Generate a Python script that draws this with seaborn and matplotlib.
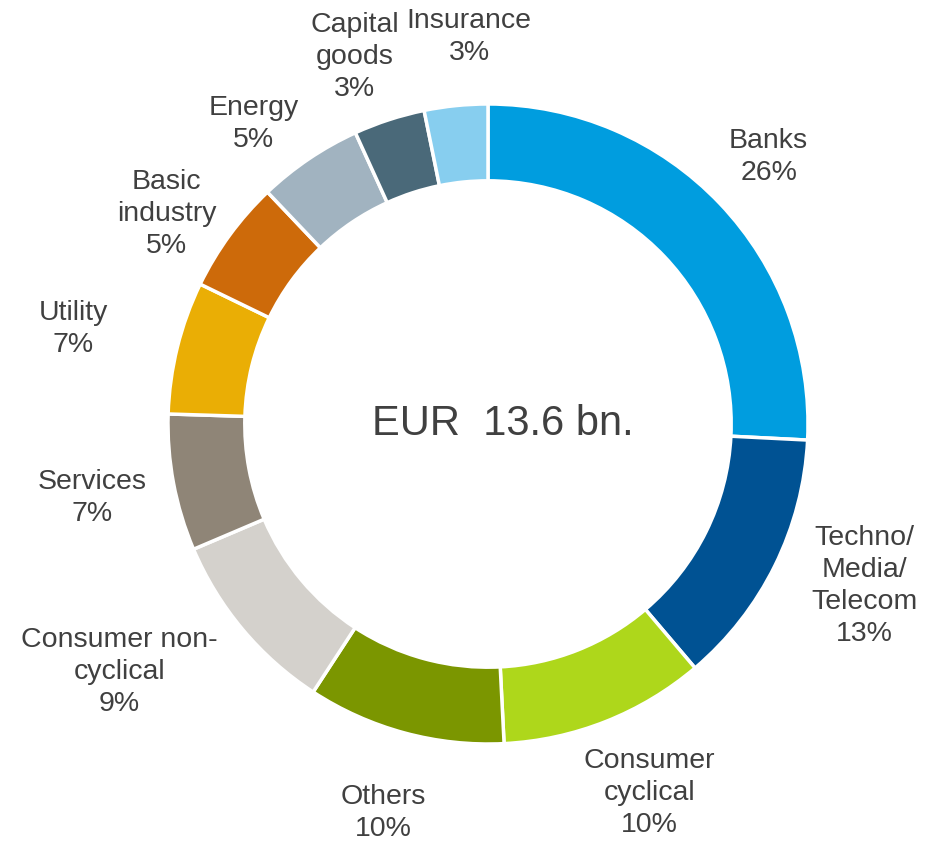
import numpy as np
import matplotlib.pyplot as plt
import seaborn as sns

sectors = ['Banks', 'Techno/\nMedia/\nTelecom', 'Consumer\ncyclical', 'Others',
           'Consumer non-\ncyclical', 'Services', 'Utility', 'Basic\nindustry',
           'Energy', 'Capital\ngoods', 'Insurance']
shares = [25.8, 13.0, 10.4, 10.0, 9.4, 6.9, 6.7, 5.7, 5.3, 3.6, 3.2]
pct_labels = ['26%', '13%', '10%', '10%', '9%', '7%', '7%', '5%', '5%', '3%', '3%']
colors = ['#009DDF', '#005293', '#AED71B', '#7B9600', '#D4D1CC', '#8F8577',
          '#EAAE05', '#CD6A0A', '#A1B3C0', '#4A6979', '#87CEEF']
total_label = 'EUR  13.6 bn.'

sns.set_theme(style='white')
plt.rcParams['font.family'] = ['Liberation Sans', 'DejaVu Sans']
txt_color = '#404040'

fig = plt.figure(figsize=(9.25, 8.43), dpi=100)
ax = fig.add_axes([0, 0, 1, 1])

wedges, _ = ax.pie(shares, colors=sns.color_palette(colors), startangle=90,
                   counterclock=False, radius=1.0,
                   wedgeprops=dict(width=0.24, edgecolor='white', linewidth=2.5))

# label distance from centre (in radii) and small angular nudges
label_dist = [1.21, 1.28, 1.26, 1.26, 1.39, 1.26, 1.33, 1.20, 1.19, 1.22, 1.21]
label_nudge = [0, 3, 2, 0, -6, 0, 1, 3, 4, 2, -3]

for w, name, pct, d, nd in zip(wedges, sectors, pct_labels, label_dist, label_nudge):
    ang = np.deg2rad((w.theta1 + w.theta2) / 2 + nd)
    ax.text(d * np.cos(ang), d * np.sin(ang), f'{name}\n{pct}',
            ha='center', va='center', fontsize=20.5, color=txt_color,
            linespacing=1.3)

ax.text(0.045, 0.0, total_label, ha='center', va='center', fontsize=30,
        color=txt_color)

r_px = 320
ax.set_xlim(-488 / r_px, (925 - 488) / r_px)
ax.set_ylim(-(843 - 424) / r_px, 424 / r_px)
ax.set_aspect('equal', adjustable='box')
ax.axis('off')

fig.savefig('out.png', dpi=100, facecolor='white')
